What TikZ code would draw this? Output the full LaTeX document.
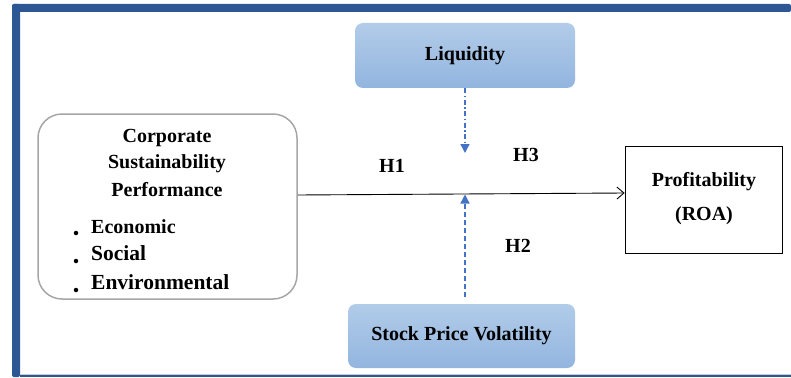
\documentclass[tikz,border=0pt]{standalone}
\usepackage{fontspec}
\setmainfont{Liberation Serif}
\usetikzlibrary{arrows.meta,calc}
\definecolor{frameblue}{HTML}{2D5694}
\definecolor{boxtop}{HTML}{B2CCE9}
\definecolor{boxbot}{HTML}{92B5DF}
\definecolor{arrowblue}{HTML}{4472C4}
\definecolor{cspgrey}{HTML}{A6A6A6}
\tikzset{
  bluebox/.style={rounded corners=8pt, top color=boxtop, bottom color=boxbot, draw=none, font=\bfseries\fontsize{20}{24}\selectfont, inner sep=0pt},
  lbl/.style={font=\bfseries\fontsize{20}{24}\selectfont, inner sep=0pt},
  bul/.style={font=\bfseries\fontsize{21.5}{25}\selectfont, inner sep=0pt, anchor=base west},
  dotmark/.style={circle, fill=black, inner sep=0pt, minimum size=4.5pt},
}
\begin{document}
\begin{tikzpicture}[x=1pt,y=-1pt]
\useasboundingbox (0,0) rectangle (791,377);
% frame
\fill[frameblue, rounded corners=2pt] (12,4) rectangle (791,12);
\fill[frameblue, rounded corners=2pt] (12,4) rectangle (20,377);
\fill[cspgrey!60] (20,373.5) rectangle (791,375);
\fill[frameblue] (20,375) rectangle (791,377);
% boxes
\node[bluebox, minimum width=220pt, minimum height=65pt] (liq) at (465,55.5) {Liquidity};
\node[bluebox, minimum width=227pt, minimum height=64pt] (stock) at (461.5,336) {Stock Price Volatility};
\node[draw=cspgrey, line width=1.5pt, rounded corners=24pt, minimum width=259pt, minimum height=185pt, inner sep=0pt] (csp) at (167.5,206.5) {};
\node[draw=black, line width=0.8pt, minimum width=157pt, minimum height=107pt, inner sep=0pt] (prof) at (703.5,199.5) {};
% texts in CSP
\node[lbl] (t1) at (167,138) {Corporate};
\node[lbl] (t2) at (167,164) {Sustainability};
\node[lbl] (t3) at (167,190) {Performance};
\node[bul, font=\bfseries\fontsize{20}{24}\selectfont] (b1) at (91,233) {Economic};
\node[bul] (b2) at (91,260) {Social};
\node[bul] (b3) at (91,289) {Environmental};
\node[dotmark] (d1) at (76,233) {};
\node[dotmark] (d2) at (76,261) {};
\node[dotmark] (d3) at (76,290) {};
% profitability text
\node[lbl] (p1) at (704,182) {Profitability};
\node[lbl] (p2) at (704,216) {(ROA)};
% hypothesis labels
\node[lbl] (h1) at (392,166) {H1};
\node[lbl] (h3) at (526,155) {H3};
\node[lbl] (h2) at (518,246) {H2};
% connectors
\coordinate (liqend) at (465,153);
\coordinate (mid) at (465,194.5);
\draw[line width=0.9pt, -{Straight Barb[length=7pt,width=12pt]}] ([yshift=11.5pt]csp.east) -- ([yshift=6.5pt]prof.west);
\draw[arrowblue, line width=1.4pt, dash pattern=on 5pt off 2.5pt on 1.5pt off 2.5pt, -{Triangle[length=9pt,width=9pt]}] (liq.south) -- (liqend);
\draw[arrowblue, line width=1.4pt, dash pattern=on 5pt off 3pt, -{Triangle[length=9pt,width=9pt]}] ([xshift=3.5pt,yshift=7pt]stock.north) -- (mid);
\end{tikzpicture}
\end{document}
